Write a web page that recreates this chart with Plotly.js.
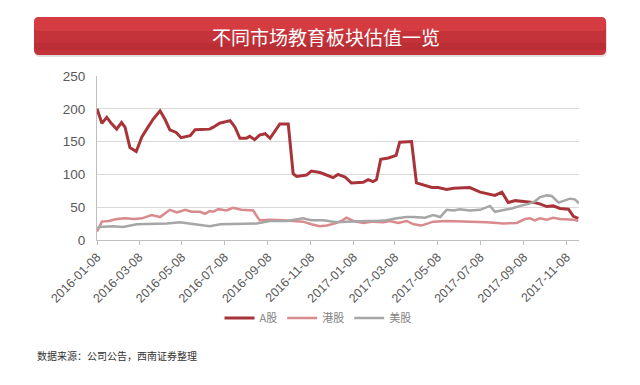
<!DOCTYPE html>
<html>
<head>
<meta charset="utf-8">
<script src="https://cdn.plot.ly/plotly-3.0.1.min.js"></script>
<style>
html,body{margin:0;padding:0;background:#fff;}
#chart{width:640px;height:385px;}
</style>
</head>
<body>
<div id="chart"></div>
<script>
// ---- data ----
const aDates = ['2016-01-08','2016-01-15','2016-01-22','2016-01-29','2016-02-05','2016-02-12','2016-02-17','2016-02-24','2016-03-04','2016-03-12','2016-03-19','2016-03-28','2016-04-07','2016-04-14','2016-04-21','2016-04-30','2016-05-07','2016-05-20','2016-05-27','2016-06-08','2016-06-17','2016-06-22','2016-07-01','2016-07-16','2016-07-23','2016-07-30','2016-08-08','2016-08-13','2016-08-20','2016-08-27','2016-09-04','2016-09-11','2016-09-25','2016-10-07','2016-10-14','2016-10-19','2016-11-02','2016-11-09','2016-11-21','2016-11-26','2016-12-10','2016-12-17','2016-12-27','2017-01-05','2017-01-22','2017-01-29','2017-02-05','2017-02-10','2017-02-16','2017-02-27','2017-03-10','2017-03-15','2017-04-01','2017-04-08','2017-04-18','2017-04-30','2017-05-09','2017-05-21','2017-05-31','2017-06-14','2017-06-23','2017-07-08','2017-07-17','2017-07-29','2017-08-08','2017-08-17','2017-08-27','2017-09-05','2017-09-17','2017-09-24','2017-10-01','2017-10-11','2017-10-20','2017-10-30','2017-11-11','2017-11-18','2017-11-25'];
const aValues = [200,178,187,177,169,179,172,141,135,157,169,184,197,184,168,164,156,159,168,168,169,172,178,182,172,155,155,158,153,160,162,155,177,177,101,97,99,105,103,101,95,100,96,87,88,92,89,92,123,125,129,149,150,87,84,80,80,77,79,79,80,73,71,68,73,57,60,59,58,57,55,51,52,48,47,36,33];

const hkDates = ['2016-01-08','2016-01-15','2016-01-25','2016-02-05','2016-02-17','2016-03-02','2016-03-12','2016-03-19','2016-03-26','2016-04-07','2016-04-14','2016-04-21','2016-05-01','2016-05-13','2016-05-22','2016-06-03','2016-06-10','2016-06-17','2016-06-22','2016-06-29','2016-07-11','2016-07-20','2016-08-01','2016-08-18','2016-08-27','2016-09-11','2016-09-30','2016-10-19','2016-10-28','2016-11-09','2016-11-21','2016-12-01','2016-12-12','2016-12-22','2016-12-29','2017-01-08','2017-01-22','2017-02-05','2017-02-20','2017-03-01','2017-03-13','2017-03-25','2017-04-04','2017-04-15','2017-05-02','2017-05-21','2017-06-19','2017-07-17','2017-08-10','2017-08-29','2017-09-10','2017-09-17','2017-09-24','2017-10-01','2017-10-11','2017-10-20','2017-10-30','2017-11-08','2017-11-18','2017-11-25'];
const hkValues = [13,28,29,32,33,32,33,35,38,35,40,46,42,46,43,43,40,44,43,47,45,49,46,45,30,31,30,29,28,24,21,22,25,29,34,29,26,28,27,29,26,29,24,22,28,29,28,27,25,26,32,33,30,33,31,34,32,31,31,29];

const usDates = ['2016-01-08','2016-01-12','2016-01-31','2016-02-14','2016-03-05','2016-03-24','2016-04-17','2016-05-05','2016-05-24','2016-06-17','2016-07-02','2016-07-30','2016-08-23','2016-09-11','2016-10-05','2016-10-28','2016-11-09','2016-11-26','2016-12-15','2016-12-29','2017-01-13','2017-01-27','2017-02-10','2017-02-24','2017-03-11','2017-03-25','2017-04-04','2017-04-13','2017-04-20','2017-05-02','2017-05-12','2017-05-21','2017-05-31','2017-06-09','2017-06-23','2017-07-08','2017-07-22','2017-07-29','2017-08-10','2017-08-22','2017-09-03','2017-09-15','2017-09-24','2017-10-01','2017-10-11','2017-10-18','2017-10-28','2017-11-06','2017-11-13','2017-11-20','2017-11-26'];
const usValues = [18,20,21,20,24,24,25,27,24,21,24,25,25,29,29,33,30,30,27,28,29,29,29,30,33,35,35,35,34,38,35,46,45,47,45,46,52,43,45,48,52,55,59,65,68,67,57,61,63,62,56];

const seriesNames = ['A股','港股','美股'];
const tickDates = ['2016-01-08','2016-03-08','2016-05-08','2016-07-08','2016-09-08','2016-11-08','2017-01-08','2017-03-08','2017-05-08','2017-07-08','2017-09-08','2017-11-08'];
const yTicks = [0,50,100,150,200,250];

// ---- layout helpers (pixel -> paper) ----
const W = 640, H = 385, L = 97, R = 61, T = 76, B = 145;
const pw = W - L - R, ph = H - T - B;
const px = x => (x - L) / pw;
const py = y => (H - B - y) / ph;

function roundRect(x0, y0, x1, y1, r) {
  const rx = r / pw, ry = r / ph;
  const a = px(x0), b = px(x1), top = py(y0), bot = py(y1);
  return `M ${a + rx},${top} L ${b - rx},${top} Q ${b},${top} ${b},${top - ry} L ${b},${bot + ry} Q ${b},${bot} ${b - rx},${bot} L ${a + rx},${bot} Q ${a},${bot} ${a},${bot + ry} L ${a},${top - ry} Q ${a},${top} ${a + rx},${top} Z`;
}

const lineStyle = [
  {color: '#a8343a', width: 3},
  {color: '#d98a8c', width: 2.5},
  {color: '#a6a6a6', width: 2.5}
];

const traces = [
  {x: aDates, y: aValues, name: seriesNames[0], type: 'scatter', mode: 'lines', line: lineStyle[0]},
  {x: hkDates, y: hkValues, name: seriesNames[1], type: 'scatter', mode: 'lines', line: lineStyle[1]},
  {x: usDates, y: usValues, name: seriesNames[2], type: 'scatter', mode: 'lines', line: lineStyle[2]}
];

const barX0 = 34, barX1 = 606, barY0 = 17, barY1 = 55;
const shapes = [
  {type: 'path', xref: 'paper', yref: 'paper', path: roundRect(barX0 + 1, barY0 + 2, barX1 + 1, barY1 + 2, 5), fillcolor: 'rgba(0,0,0,0.12)', line: {width: 0}, layer: 'below'},
  {type: 'path', xref: 'paper', yref: 'paper', path: roundRect(barX0, barY0, barX1, barY1, 5), fillcolor: '#c5333a', line: {width: 0}},
  {type: 'path', xref: 'paper', yref: 'paper', path: roundRect(barX0, barY0, barX1, barY0 + 14, 5), fillcolor: 'rgba(230,70,75,0.45)', line: {width: 0}},
  {type: 'rect', xref: 'paper', yref: 'paper', x0: px(barX0), x1: px(barX1), y0: py(barY1 - 12), y1: py(barY1 - 5), fillcolor: 'rgba(150,30,35,0.18)', line: {width: 0}}
];

const layout = {
  width: W, height: H,
  margin: {l: L, r: R, t: T, b: B, pad: 0},
  paper_bgcolor: '#ffffff', plot_bgcolor: '#ffffff',
  font: {family: 'Liberation Sans, Arial, sans-serif', color: '#595959'},
  showlegend: true,
  legend: {
    orientation: 'h', x: px(318), xanchor: 'center', y: py(318), yanchor: 'middle',
    font: {family: 'Noto Sans CJK SC, sans-serif', size: 11, color: '#7f7f7f'},
    itemwidth: 30, tracegroupgap: 0, bgcolor: 'rgba(0,0,0,0)'
  },
  xaxis: {
    type: 'date', range: ['2016-01-08', '2017-11-26'],
    tickvals: tickDates, ticktext: tickDates, tickangle: -45,
    tickfont: {size: 12.5, color: '#595959'},
    showgrid: false, zeroline: false,
    showline: true, linecolor: '#bfbfbf', linewidth: 1,
    ticks: 'outside', ticklen: 4, tickcolor: '#bfbfbf'
  },
  yaxis: {
    range: [0, 250], tickvals: yTicks, ticktext: yTicks.map(String),
    tickfont: {size: 13.5, color: '#595959'},
    showgrid: true, gridcolor: '#d9d9d9', gridwidth: 1, zeroline: false,
    showline: true, linecolor: '#bfbfbf', linewidth: 1,
    ticks: 'outside', ticklen: 8, tickcolor: 'rgba(0,0,0,0)'
  },
  shapes: shapes,
  annotations: [
    {text: '不同市场教育板块估值一览', xref: 'paper', yref: 'paper', x: px(326), y: py(36), xanchor: 'center', yanchor: 'middle', showarrow: false,
     font: {family: 'Noto Sans CJK SC, sans-serif', size: 19, color: '#ffffff'}},
    {text: '数据来源：公司公告，西南证券整理', xref: 'paper', yref: 'paper', x: px(35), y: py(355), xanchor: 'left', yanchor: 'middle', showarrow: false,
     font: {family: 'Noto Sans CJK SC, sans-serif', size: 10, color: '#333333'}}
  ]
};

Plotly.newPlot('chart', traces, layout, {displayModeBar: false, staticPlot: true});
</script>
</body>
</html>
